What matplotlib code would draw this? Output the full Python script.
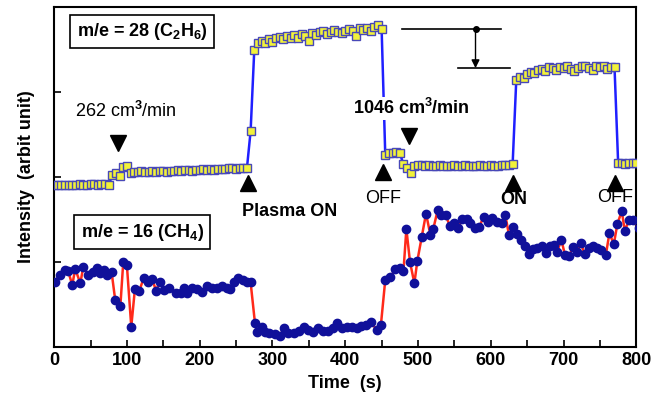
import numpy as np
import matplotlib.pyplot as plt

plt.rcParams['font.family'] = ['Liberation Sans', 'DejaVu Sans']
plt.rcParams['mathtext.fontset'] = 'custom'
plt.rcParams['mathtext.rm'] = 'Liberation Sans:bold'
plt.rcParams['mathtext.default'] = 'rm'

# m/e = 28 (C2H6), sampled every 5 s
t_c2h6 = np.arange(0, 805, 5)
i_c2h6 = [
    1.90, 1.91, 1.90, 1.91, 1.91, 1.90, 1.91, 1.92, 1.91, 1.91, 1.92, 1.92, 1.91, 1.92, 1.92, 1.91,
    2.02, 2.05, 2.01, 2.12, 2.13, 2.05,
    2.06, 2.06, 2.07, 2.06, 2.06, 2.07, 2.06, 2.07, 2.07, 2.06, 2.07, 2.07, 2.08, 2.07, 2.08, 2.08,
    2.07, 2.08, 2.08, 2.09, 2.08, 2.09, 2.08, 2.09, 2.09, 2.09, 2.10, 2.10, 2.09, 2.10, 2.10, 2.11,
    2.54,
    3.49, 3.58, 3.60, 3.58, 3.62, 3.59, 3.63, 3.65, 3.62, 3.66, 3.64, 3.67, 3.64, 3.68, 3.66, 3.60,
    3.69, 3.67, 3.70, 3.72, 3.68, 3.70, 3.73, 3.71, 3.69, 3.72, 3.74, 3.72, 3.66, 3.75, 3.73, 3.75,
    3.72, 3.76, 3.79, 3.74,
    2.26, 2.28, 2.28, 2.29, 2.28, 2.15, 2.10, 2.05, 2.13, 2.14,
    2.14, 2.13, 2.14, 2.13, 2.13, 2.14, 2.13, 2.13, 2.13, 2.14, 2.13, 2.13, 2.14, 2.13, 2.13, 2.13,
    2.14, 2.13, 2.13, 2.14, 2.13, 2.13, 2.14, 2.14, 2.14, 2.15,
    3.14, 3.18, 3.16, 3.21, 3.24, 3.22, 3.26, 3.27, 3.25, 3.29, 3.28, 3.26, 3.29, 3.28, 3.30, 3.27,
    3.25, 3.28, 3.30, 3.31, 3.28, 3.26, 3.30, 3.29, 3.31, 3.27, 3.29, 3.29,
    2.16, 2.16, 2.15, 2.16, 2.16, 2.17,
]

# m/e = 16 (CH4)
t_ch4 = [
    1, 8, 15, 19, 25, 29, 36, 40, 47, 54,
    59, 63, 68, 72, 79, 84, 91, 95, 100, 106,
    111, 117, 123, 129, 135, 140, 145, 151, 158, 167,
    174, 178, 183, 190, 197, 203, 210, 217, 224, 230,
    237, 242, 247, 253, 259, 265, 270, 276, 279, 286,
    290, 295, 303, 310, 316, 322, 330, 337, 344, 349,
    356, 363, 370, 377, 383, 388, 395, 402, 409, 416,
    422, 429, 436, 443, 449, 455, 462, 469, 475, 480,
    484, 489, 495, 499, 505, 511, 517, 521, 527, 532,
    538, 544, 549, 555, 561, 567, 572, 578, 584, 590,
    596, 602, 608, 615, 620, 625, 631, 636, 641, 647,
    653, 658, 664, 670, 676, 681, 687, 691, 697, 702,
    708, 713, 718, 724, 729, 735, 741, 746, 752, 758,
    763, 769, 774, 780, 784, 790, 796, 803,
]
i_ch4 = [
    0.76, 0.85, 0.91, 0.90, 0.73, 0.92, 0.75, 0.94, 0.85, 0.88,
    0.93, 0.87, 0.91, 0.85, 0.88, 0.55, 0.48, 1.00, 0.96, 0.24,
    0.68, 0.66, 0.81, 0.77, 0.80, 0.66, 0.77, 0.67, 0.69, 0.64,
    0.64, 0.70, 0.64, 0.70, 0.68, 0.65, 0.72, 0.70, 0.70, 0.72,
    0.70, 0.68, 0.76, 0.81, 0.79, 0.76, 0.76, 0.28, 0.18, 0.24,
    0.18, 0.16, 0.15, 0.13, 0.22, 0.16, 0.16, 0.19, 0.24, 0.20,
    0.18, 0.22, 0.19, 0.19, 0.23, 0.28, 0.22, 0.24, 0.24, 0.23,
    0.25, 0.26, 0.29, 0.20, 0.26, 0.79, 0.82, 0.92, 0.93, 0.89,
    1.39, 1.00, 0.75, 1.01, 1.29, 1.57, 1.32, 1.39, 1.61, 1.55,
    1.55, 1.42, 1.46, 1.40, 1.51, 1.51, 1.46, 1.40, 1.41, 1.53,
    1.47, 1.52, 1.47, 1.46, 1.55, 1.32, 1.41, 1.33, 1.26, 1.19,
    1.10, 1.15, 1.17, 1.19, 1.11, 1.19, 1.20, 1.12, 1.26, 1.08,
    1.07, 1.18, 1.12, 1.22, 1.09, 1.16, 1.19, 1.16, 1.14, 1.08,
    1.34, 1.21, 1.45, 1.60, 1.37, 1.49, 1.50, 1.40,
]

# event markers: (time, height, label, label x, label y, weight)
up_events = [
    (267, 1.93, 'Plasma ON', 323, 1.60, 'bold'),
    (452, 2.06, 'OFF', 452, 1.75, 'normal'),
    (631, 1.93, 'ON', 632, 1.73, 'bold'),
    (770, 1.93, 'OFF', 771, 1.76, 'normal'),
]
flow_marks = [
    (88, 2.40, '262 cm$^3$/min', 98, 2.78, 'normal'),
    (488, 2.48, '1046 cm$^3$/min', 491, 2.81, 'bold'),
]

fig = plt.figure(figsize=(6.52, 4.05), dpi=100)
ax = fig.add_axes([0.083, 0.143, 0.893, 0.840])

ax.plot(t_c2h6, i_c2h6, '-', color='#1f1fff', lw=1.8, marker='s', ms=6,
        mfc='#f2f23a', mec='#4848b8', mew=1.0, zorder=3)
ax.plot(t_ch4, i_ch4, '-', color='#ff2a1a', lw=1.8, marker='o', ms=6,
        mfc='#10109a', mec='#10109a', zorder=3)

for t, y, lab, lx, ly, w in up_events:
    ax.plot(t, y, marker='^', color='black', ms=11, zorder=5)
    ax.text(lx, ly, lab, ha='center', va='center', fontsize=13, fontweight=w, zorder=6)

for t, y, lab, lx, ly, w in flow_marks:
    ax.plot(t, y, marker='v', color='black', ms=11, zorder=5)
    ax.text(lx, ly, lab, ha='center', va='center', fontsize=13, fontweight=w,
            zorder=6, bbox=dict(facecolor='white', edgecolor='none', pad=1))

# step between the two plasma-on plateaus
ax.plot([478, 614], [3.74, 3.74], color='black', lw=1.2)
ax.plot([555, 627], [3.28, 3.28], color='black', lw=1.2)
ax.plot(579, 3.74, 'o', color='black', ms=4)
ax.annotate('', xy=(579, 3.28), xytext=(579, 3.74),
            arrowprops=dict(arrowstyle='-|>', color='black', lw=1.0, mutation_scale=12,
                            shrinkA=0, shrinkB=0))

box = dict(boxstyle='square,pad=0.35', facecolor='white', edgecolor='black', lw=1.2)
ax.text(121, 3.71, 'm/e = 28 (C$_2$H$_6$)', ha='center', va='center',
        fontsize=13, fontweight='bold', bbox=box, zorder=6)
ax.text(121, 1.35, 'm/e = 16 (CH$_4$)', ha='center', va='center',
        fontsize=13, fontweight='bold', bbox=box, zorder=6)

ax.set_xlim(0, 800)
ax.set_ylim(0, 4)
ax.set_xticks(range(0, 801, 100))
ax.set_xticks(range(50, 800, 100), minor=True)
ax.set_yticks([1, 2, 3])
ax.set_yticklabels([])
ax.tick_params(direction='in', length=5, width=1.2, top=False, right=False,
               labelsize=13)
ax.tick_params(which='minor', direction='in', length=5, width=1.2)
for lab in ax.get_xticklabels():
    lab.set_fontweight('bold')
for s in ax.spines.values():
    s.set_linewidth(1.5)

ax.set_xlabel('Time  (s)', fontsize=13, fontweight='bold', labelpad=4)
ax.set_ylabel('Intensity  (arbit unit)', fontsize=13, fontweight='bold', labelpad=10)

fig.savefig('out.png', dpi=100)
